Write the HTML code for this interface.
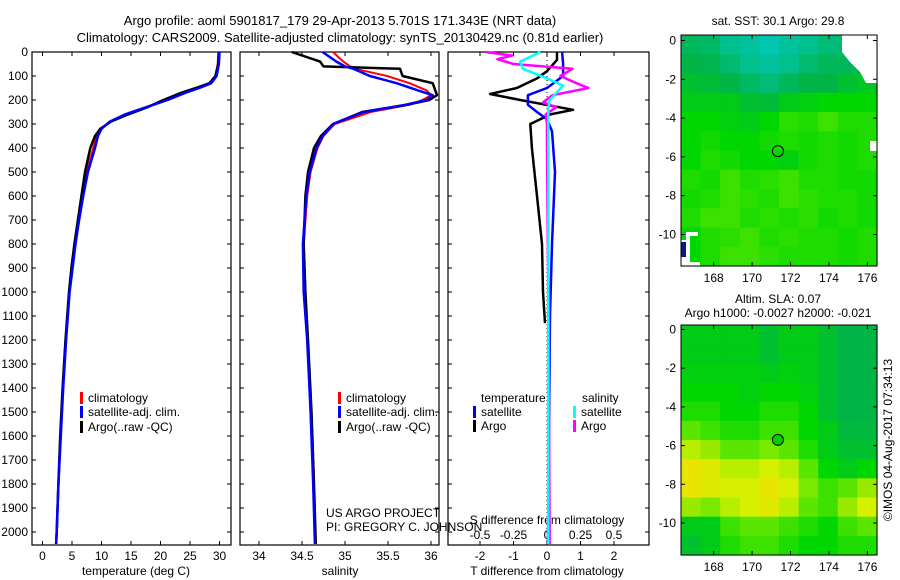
<!DOCTYPE html>
<html><head><meta charset="utf-8">
<style>
html,body{margin:0;padding:0;background:#fff;}
svg{display:block;font-family:"Liberation Sans",sans-serif;}
</style></head>
<body>
<svg id="fig" width="900" height="580" viewBox="0 0 900 580">
<text x="340" y="25" font-size="13" text-anchor="middle">Argo profile: aoml 5901817_179 29-Apr-2013 5.701S 171.343E (NRT data)</text>
<text x="340" y="42" font-size="13" text-anchor="middle">Climatology: CARS2009. Satellite-adjusted climatology: synTS_20130429.nc (0.81d earlier)</text>
<text x="778" y="25" font-size="12" text-anchor="middle">sat. SST: 30.1 Argo: 29.8</text>
<text x="778" y="303" font-size="12" text-anchor="middle">Altim. SLA: 0.07</text>
<text x="778" y="317" font-size="12" text-anchor="middle">Argo h1000: -0.0027 h2000: -0.021</text>
<text transform="translate(892,440) rotate(-90)" font-size="12" text-anchor="middle">©IMOS 04-Aug-2017 07:34:13</text>
<g id="plots"></g>
</svg>
<script>
// ---- profile data ----
const tDepth = [0,50,100,130,150,170,200,230,260,290,320,350,400,500,600,700,800,900,1000,1200,1400,1600,1800,2000,2050];
const tClim  = [29.8,29.7,29.3,28.5,26.5,24,21,17.5,14,11.5,10,9.2,8.6,7.5,6.8,6.1,5.5,5.0,4.5,3.9,3.4,3.0,2.7,2.4,2.3];
const tSat   = [30.0,29.9,29.5,28.6,26.6,24.2,21.2,17.6,14,11.4,10,9.4,8.9,7.7,6.9,6.2,5.6,5.1,4.6,4.0,3.5,3.1,2.7,2.4,2.3];
const tArgo  = [29.9,29.8,29.3,28.3,26.0,23.5,20.5,17.8,14.5,11.6,9.8,8.9,8.1,7.2,6.6,6.0,5.4,4.9,4.5,3.9,3.4,3.0,2.7,2.4,2.3];

const sDepth = [0,40,60,70,100,130,160,180,200,220,250,300,350,400,500,600,800,1000,1200,1500,1800,2050];
const sClim  = [34.86,34.98,35.06,35.12,35.49,35.75,35.95,36.0,35.9,35.75,35.3,34.88,34.75,34.68,34.6,34.56,34.52,34.53,34.56,34.6,34.63,34.65];
const sSat   = [34.74,34.9,35.0,35.1,35.29,35.6,35.85,36.02,35.95,35.7,35.22,34.86,34.74,34.67,34.59,34.55,34.51,34.52,34.56,34.6,34.63,34.65];
const sArgo  = [34.38,34.71,34.75,35.64,35.67,36.02,36.05,36.07,35.98,35.72,35.2,34.86,34.72,34.64,34.57,34.54,34.52,34.54,34.57,34.61,34.64,34.66];

const dtArgoDepth = [0,33,80,110,150,175,200,241,260,300,400,600,800,1000,1130];
const dtArgo      = [0.3,0.3,0,-0.3,-0.9,-1.7,-0.8,0.78,0.1,-0.5,-0.45,-0.3,-0.15,-0.12,-0.06];
const dtSatDepth  = [0,50,100,150,180,220,250,280,330,500,800,1100,2050];
const dtSat       = [0.45,0.48,0.48,0,-0.57,-0.57,-0.3,0,0.15,0.24,0.15,0.09,0.03];
const dsArgoDepth = [0,15,30,50,70,100,130,150,180,210,230,260,300,400,1000,2050];
const dsArgo      = [-0.46,-0.26,-0.37,-0.25,0.19,0.10,0.22,0.31,0.04,-0.03,0.07,-0.01,0,0,0.01,0.02];
const dsSatDepth  = [0,40,70,110,140,170,200,240,280,400,2050];
const dsSat       = [-0.05,-0.2,-0.18,0,0.12,0.07,0.02,0.01,0.01,0.01,0.01];

const depthTicks = [0,100,200,300,400,500,600,700,800,900,1000,1100,1200,1300,1400,1500,1600,1700,1800,1900,2000];
const tTicks = [0,5,10,15,20,25,30];
const sTicks = [34,34.5,35,35.5,36];
const sTickLabels = ["34","34.5","35","35.5","36"];
const dtTicks = [-2,-1,0,1,2];
const dsTicks = [-0.5,-0.25,0,0.25,0.5];
const dsTickLabels = ["-0.5","-0.25","0","0.25","0.5"];

// ---- map data (rows lat 0..-11, cols lon 166.5..176.5) ----
const sstGrid = [
[.25,.22,.12,.08,.03,.08,.12,.18,.2,.2],
[.3,.28,.2,.12,.08,.12,.2,.25,.25,.3],
[.35,.33,.3,.22,.18,.25,.3,.3,.35,.38],
[.4,.4,.4,.35,.33,.4,.42,.45,.45,.45],
[.45,.45,.42,.4,.45,.52,.5,.55,.5,.5],
[.45,.48,.45,.45,.48,.5,.48,.5,.48,.5],
[.45,.5,.48,.45,.45,.42,.48,.5,.48,.5],
[.5,.48,.55,.5,.52,.55,.5,.5,.48,.48],
[.48,.5,.55,.52,.5,.55,.52,.5,.5,.48],
[.5,.55,.55,.5,.52,.5,.52,.48,.5,.48],
[.45,.5,.52,.55,.5,.52,.5,.5,.48,.5],
[.45,.5,.55,.55,.52,.5,.5,.5,.48,.5]];
const slaGrid = [
[.4,.4,.4,.4,.35,.4,.4,.35,.3,.3],
[.4,.4,.4,.4,.35,.4,.4,.35,.3,.3],
[.42,.42,.42,.42,.4,.42,.4,.35,.3,.3],
[.45,.45,.45,.42,.45,.45,.42,.35,.3,.3],
[.5,.5,.45,.45,.5,.5,.45,.35,.3,.3],
[.6,.55,.5,.5,.55,.55,.45,.4,.32,.32],
[.75,.7,.6,.6,.65,.6,.5,.4,.35,.35],
[.9,.85,.75,.75,.8,.75,.6,.45,.4,.45],
[.9,.85,.8,.8,.9,.8,.65,.55,.6,.7],
[.7,.65,.75,.8,.85,.75,.6,.55,.7,.8],
[.4,.4,.55,.6,.6,.55,.5,.45,.55,.6],
[.35,.4,.5,.55,.55,.5,.45,.45,.5,.5]];
const lonTicks = [168,170,172,174,176];
const latTicks = [0,-2,-4,-6,-8,-10];
const argoLon = 171.343, argoLat = -5.701;

const NS='http://www.w3.org/2000/svg';
const root=document.getElementById('plots');
function mk(tag,attrs,parent){const e=document.createElementNS(NS,tag);for(const k in attrs)e.setAttribute(k,attrs[k]);(parent||root).appendChild(e);return e;}
function txt(x,y,s,size,anchor,parent){const e=mk('text',{x:x,y:y,'font-size':size,'text-anchor':anchor||'middle'},parent);e.textContent=s;return e;}

const Y0=52, PY=0.24, YB=545;
const yD=d=>Y0+d*PY;
const xT=v=>42.5+v*5.9;
const xS=v=>259+(v-34)*86;
const xDT=v=>547+v*33.5;
const xDS=v=>547+v*134;

function line(depths,vals,xf,color,w,name){
  const p=depths.map((d,i)=>xf(vals[i]).toFixed(1)+','+yD(d).toFixed(1)).join(' ');
  const e=mk('polyline',{points:p,fill:'none',stroke:color,'stroke-width':w,'stroke-linejoin':'round'});
  
  
}
function frame(x0,x1,name){
  const r=mk('rect',{x:x0,y:Y0,width:x1-x0,height:YB-Y0,fill:'none',stroke:'#000','stroke-width':1.2});
  
  
}
depthTicks.forEach(d=>{
  const t=txt(28,yD(d)+4,String(d),12,'end');
  
  
  [[32,36],[227,231],[240,244],[435,439],[448,452],[645,649]].forEach(a=>mk('line',{x1:a[0],x2:a[1],y1:yD(d),y2:yD(d),stroke:'#000'}));
});
frame(32,231,'temperature-panel');
frame(240,439,'salinity-panel');
frame(448,649,'difference-panel');
tTicks.forEach(v=>{mk('line',{x1:xT(v),x2:xT(v),y1:YB,y2:YB-4,stroke:'#000'});mk('line',{x1:xT(v),x2:xT(v),y1:Y0,y2:Y0+4,stroke:'#000'});
  const t=txt(xT(v),560,String(v),12);});
sTicks.forEach((v,i)=>{mk('line',{x1:xS(v),x2:xS(v),y1:YB,y2:YB-4,stroke:'#000'});mk('line',{x1:xS(v),x2:xS(v),y1:Y0,y2:Y0+4,stroke:'#000'});
  const t=txt(xS(v),560,sTickLabels[i],12);});
dtTicks.forEach(v=>{mk('line',{x1:xDT(v),x2:xDT(v),y1:YB,y2:YB-4,stroke:'#000'});mk('line',{x1:xDT(v),x2:xDT(v),y1:Y0,y2:Y0+4,stroke:'#000'});
  const t=txt(xDT(v),560,String(v),12);});
dsTicks.forEach((v,i)=>{const t=txt(xDS(v),539,dsTickLabels[i],12);});
mk('line',{x1:547,x2:547,y1:Y0,y2:YB,stroke:'#000','stroke-dasharray':'1,3'});
[[136,575,'temperature (deg C)','temperature-axis-title'],[340,575,'salinity','salinity-axis-title'],[547,575,'T difference from climatology','t-diff-axis-title'],[547,524,'S difference from climatology','s-diff-axis-title']].forEach(a=>{
  const t=txt(a[0],a[1],a[2],12);});
line(tDepth,tClim,xT,'#f00',2,'temperature-climatology-line');
line(tDepth,tArgo,xT,'#000',2.5,'temperature-argo-line');
line(tDepth,tSat,xT,'#00f',2.5,'temperature-satellite-line');
line(sDepth,sClim,xS,'#f00',2,'salinity-climatology-line');
line(sDepth,sArgo,xS,'#000',2.5,'salinity-argo-line');
line(sDepth,sSat,xS,'#00f',2.5,'salinity-satellite-line');
line(dtArgoDepth,dtArgo,xDT,'#000',2.5,'t-diff-argo-line');
line(dtSatDepth,dtSat,xDT,'#00f',2.5,'t-diff-satellite-line');
line(dsArgoDepth,dsArgo,xDS,'#f0f',2.5,'s-diff-argo-line');
line(dsSatDepth,dsSat,xDS,'#0ff',2.5,'s-diff-satellite-line');
function leg(x,y,color,label,name){
  mk('rect',{x:x,y:y-10,width:3,height:12,fill:color});
  const t=txt(x+8,y,label,12,'start');
}
leg(80,402,'#f00','climatology','legend-climatology');
leg(80,416,'#00f','satellite-adj. clim.','legend-satellite-adj');
leg(80,431,'#000','Argo(..raw -QC)','legend-argo');
leg(338,402,'#f00','climatology','legend2-climatology');
leg(338,416,'#00f','satellite-adj. clim.','legend2-satellite-adj');
leg(338,431,'#000','Argo(..raw -QC)','legend2-argo');
{const t=txt(481,402,'temperature',12,'start');}
{const t=txt(582,402,'salinity',12,'start');}
leg(473,416,'#00f','satellite','legend-t-satellite');
leg(473,430,'#000','Argo','legend-t-argo');
leg(573,416,'#0ff','satellite','legend-s-satellite');
leg(573,430,'#f0f','Argo','legend-s-argo');
{const t=txt(326,517,'US ARGO PROJECT',12,'start');}
{const t=txt(326,531,'PI: GREGORY C. JOHNSON',12,'start');}

function cmap(v){
  const st=[[0,[0,200,190]],[.3,[0,180,70]],[.45,[0,215,0]],[.6,[90,230,0]],[.8,[215,240,0]],[1,[250,215,0]]];
  for(let i=1;i<st.length;i++){if(v<=st[i][0]){const a=st[i-1],b=st[i],f=(v-a[0])/(b[0]-a[0]);
    return 'rgb('+a[1].map((c,j)=>Math.round(c+(b[1][j]-c)*f)).join(',')+')';}}
  return 'rgb(250,215,0)';
}
function map(grid,x0,y0,w,h,lat0px,latScale,name,circleFill){
  const g=mk('g',{});
  
  
  const lonX=lon=>x0+(lon-166.3)/(176.5-166.3)*w;
  const latY=lat=>lat0px-lat*latScale;
  const rows=grid.length,cols=grid[0].length;
  grid.forEach((row,r)=>row.forEach((v,c)=>{
    const cell=mk('rect',{x:(x0+c*w/cols).toFixed(2),y:(y0+r*h/rows).toFixed(2),width:(w/cols+0.6).toFixed(2),height:(h/rows+0.6).toFixed(2),fill:cmap(v)},g);
    
    
  }));
  g.cellEnd=true;
  g.lonX=lonX;g.latY=latY;
  return g;
}
function mapAxes(g,x0,y0,w,h,circleFill){
  const lonX=g.lonX,latY=g.latY;
  mk('rect',{x:x0,y:y0,width:w,height:h,fill:'none',stroke:'#000'},g);
  lonTicks.forEach(l=>{mk('line',{x1:lonX(l),x2:lonX(l),y1:y0+h,y2:y0+h-4,stroke:'#000'},g);mk('line',{x1:lonX(l),x2:lonX(l),y1:y0,y2:y0+4,stroke:'#000'},g);
    const t=txt(lonX(l),y0+h+16,String(l),12,'middle',g);});
  latTicks.forEach(l=>{mk('line',{x1:x0,x2:x0+4,y1:latY(l),y2:latY(l),stroke:'#000'},g);mk('line',{x1:x0+w,x2:x0+w-4,y1:latY(l),y2:latY(l),stroke:'#000'},g);
    const t=txt(x0-5,latY(l)+4,String(l),12,'end',g);});
  const c=mk('circle',{cx:lonX(argoLon),cy:latY(argoLat),r:5.5,fill:circleFill,stroke:'#000'},g);
  
  
}
const m1=map(sstGrid,681,35,196,231,40.5,19.4,'sst-map');
mk('polygon',{points:'842,35 877,35 877,83 866,83 860,72 850,62 842,52',fill:'#fff'},m1);
mk('rect',{x:870,y:141,width:7,height:10,fill:'#fff'},m1);
mk('polygon',{points:'681,258 681,266 700,266 700,262 690,262 690,236 698,236 698,232 686,232 686,240 681,240',fill:'#fff'},m1);
mk('rect',{x:681,y:242,width:5,height:15,fill:'#0a1a80'},m1);
mapAxes(m1,681,35,196,231,'none');
const m2=map(slaGrid,681,325,196,230,329.5,19.35,'sla-map');
mapAxes(m2,681,325,196,230,'#0c0');
</script>
</body></html>
